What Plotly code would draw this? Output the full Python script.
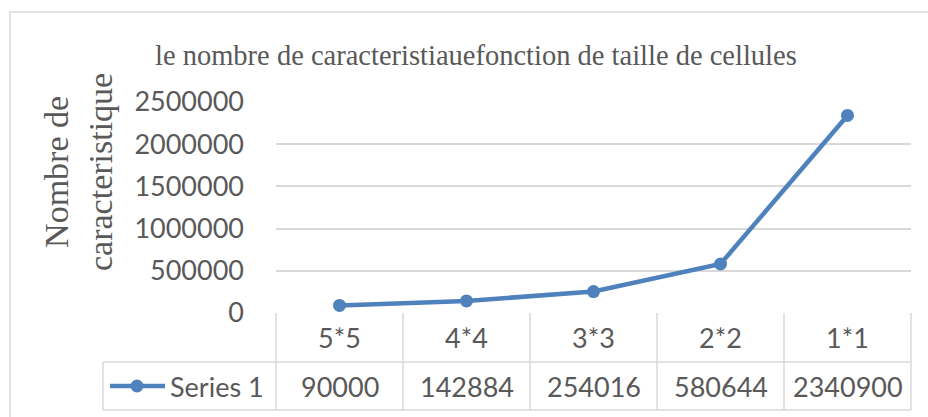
import plotly.graph_objects as go

# Chart data
categories = ["5*5", "4*4", "3*3", "2*2", "1*1"]
values = [90000, 142884, 254016, 580644, 2340900]
series_name = "Series 1"
y_ticks = [0, 500000, 1000000, 1500000, 2000000, 2500000]

title_text = "le nombre de caracteristiauefonction de taille de cellules"
y_title = "Nombre de<br>caracteristique"

# Page geometry (pixels)
FIG_W, FIG_H = 928, 417
L, R, T, B = 276, 911, 102, 313
PW, PH = R - L, B - T

BLUE = "#4F81BD"
GRID = "#D9D9D9"
TEXT = "#595959"
NUM_FONT = "Lato"
SERIF = "Liberation Serif"


def px(x):
    return (x - L) / PW


def py(y):
    return (B - y) / PH


fig = go.Figure()
fig.add_trace(go.Scatter(
    x=categories, y=values, mode="lines+markers", name=series_name,
    line=dict(color=BLUE, width=4.5),
    marker=dict(color=BLUE, size=13),
    cliponaxis=False, showlegend=False,
))

shapes = []
annotations = []

# chart frame
shapes.append(dict(type="rect", xref="paper", yref="paper",
                   x0=px(10), x1=px(940), y0=py(12), y1=py(430),
                   line=dict(color=GRID, width=1.5), layer="below"))

# data table under the plot
n = len(categories)
col_w = PW / n
row1_top, row1_bot, row2_bot = 313, 362, 410
legend_left = 103
line_style = dict(color=GRID, width=1.5)
for k in range(n + 1):
    xk = L + k * col_w
    shapes.append(dict(type="line", xref="paper", yref="paper",
                       x0=px(xk), x1=px(xk), y0=py(row1_top), y1=py(row2_bot),
                       line=line_style))
shapes.append(dict(type="line", xref="paper", yref="paper",
                   x0=px(legend_left), x1=px(R), y0=py(row1_bot), y1=py(row1_bot),
                   line=line_style))
shapes.append(dict(type="line", xref="paper", yref="paper",
                   x0=px(legend_left), x1=px(R), y0=py(row2_bot), y1=py(row2_bot),
                   line=line_style))
shapes.append(dict(type="line", xref="paper", yref="paper",
                   x0=px(legend_left), x1=px(legend_left), y0=py(row1_bot), y1=py(row2_bot),
                   line=line_style))

# legend key inside the table
key_y = (row1_bot + row2_bot) / 2
shapes.append(dict(type="line", xref="paper", yref="paper",
                   x0=px(110), x1=px(165), y0=py(key_y), y1=py(key_y),
                   line=dict(color=BLUE, width=4.5)))
shapes.append(dict(type="circle", xref="paper", yref="paper",
                   x0=px(137 - 6.5), x1=px(137 + 6.5), y0=py(key_y + 6.5), y1=py(key_y - 6.5),
                   fillcolor=BLUE, line=dict(color=BLUE, width=0)))
annotations.append(dict(xref="paper", yref="paper", x=px(168), y=py(key_y),
                        xanchor="left", yanchor="middle", showarrow=False,
                        text=series_name, font=dict(family=NUM_FONT, size=27, color=TEXT)))

for i, (cat, val) in enumerate(zip(categories, values)):
    cx = px(L + (i + 0.5) * col_w)
    annotations.append(dict(xref="paper", yref="paper", x=cx, y=py((row1_top + row1_bot) / 2),
                            xanchor="center", yanchor="middle", showarrow=False,
                            text=cat, font=dict(family=NUM_FONT, size=27, color=TEXT)))
    annotations.append(dict(xref="paper", yref="paper", x=cx, y=py(key_y),
                            xanchor="center", yanchor="middle", showarrow=False,
                            text=str(val), font=dict(family=NUM_FONT, size=27, color=TEXT)))

# chart title
annotations.append(dict(xref="paper", yref="paper", x=px(476), y=py(55),
                        xanchor="center", yanchor="middle", showarrow=False,
                        text=title_text, font=dict(family=SERIF, size=28.5, color=TEXT)))

# vertical axis title
annotations.append(dict(xref="paper", yref="paper", x=px(78), y=py(172),
                        xanchor="center", yanchor="middle", showarrow=False, textangle=-90,
                        text=y_title, font=dict(family=SERIF, size=34, color=TEXT)))

fig.update_layout(
    width=FIG_W, height=FIG_H,
    margin=dict(l=L, r=FIG_W - R, t=T, b=FIG_H - B, pad=0),
    paper_bgcolor="white", plot_bgcolor="white",
    shapes=shapes, annotations=annotations,
    xaxis=dict(type="category", range=[-0.5, n - 0.5], showgrid=False,
               showticklabels=False, zeroline=False, showline=False, ticks=""),
    yaxis=dict(range=[0, 2500000], tickvals=y_ticks, ticktext=[str(v) for v in y_ticks],
               showgrid=True, gridcolor=GRID, gridwidth=1.5, zeroline=False,
               showline=False, ticks="", ticklabelstandoff=31,
               tickfont=dict(family=NUM_FONT, size=27, color=TEXT)),
)

fig.write_html("out.html")
